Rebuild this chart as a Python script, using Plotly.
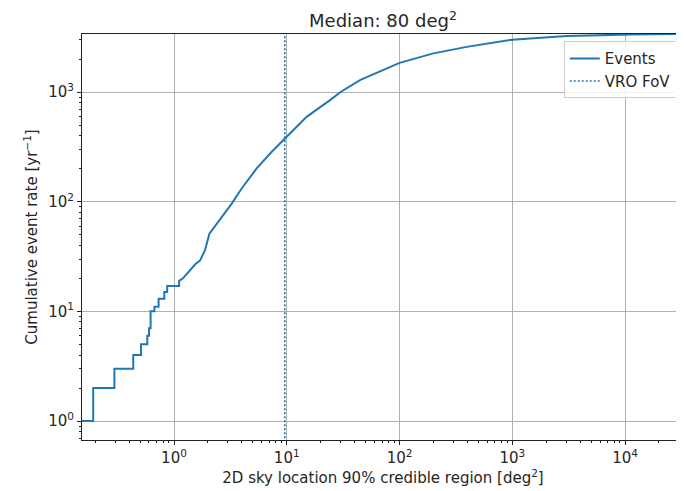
import plotly.graph_objects as go

# Vertices of the cumulative curve (deg^2, events/yr)
areas = [0.15, 0.192, 0.192, 0.296, 0.296, 0.435, 0.435, 0.51, 0.51, 0.58, 0.58,
         0.60, 0.60, 0.62, 0.62, 0.67, 0.67, 0.73, 0.73, 0.82, 0.82, 0.87, 0.87,
         1.11, 1.11, 1.2, 1.3, 1.45, 1.55, 1.70, 1.88, 2.06, 2.65, 3.25, 3.98,
         5.41, 7.36, 10.0, 15.0, 24.2, 30.0, 44.6, 67.0, 100.0, 200.0, 394.0,
         1000.0, 3030.0, 11600.0, 33000.0]
cumulative_rate = [1, 1, 2, 2, 3, 3, 4, 4, 5, 5, 6,
                   6, 7, 7, 10, 10, 11, 11, 13, 13, 15, 15, 17,
                   17, 19, 20, 22, 25, 27, 29, 36, 51, 73, 96, 132,
                   201, 285, 391, 594, 844, 1000, 1283, 1528, 1846, 2250, 2580,
                   3000, 3250, 3350, 3380]

vro_fov = 9.6
x_tick_vals = [1, 10, 100, 1000, 10000]
x_tick_text = ["10<sup>0</sup>", "10<sup>1</sup>", "10<sup>2</sup>", "10<sup>3</sup>", "10<sup>4</sup>"]
y_tick_vals = [1, 10, 100, 1000]
y_tick_text = ["10<sup>0</sup>", "10<sup>1</sup>", "10<sup>2</sup>", "10<sup>3</sup>"]

BLUE = "#1f77b4"
TXT = "#262626"
FONT = "DejaVu Sans"

x_minor = [m * 10.0 ** e for e in range(-1, 5) for m in range(2, 10)]
y_minor = [m * 10.0 ** e for e in range(-1, 4) for m in range(2, 10)]

# page body adds an 8px margin, so the figure is sized to fit the 684x491 window
W, H = 676, 483

fig = go.Figure()
fig.add_trace(go.Scatter(x=areas, y=cumulative_rate, mode="lines", name="Events",
                         line=dict(color=BLUE, width=2)))
fig.add_trace(go.Scatter(x=[vro_fov, vro_fov], y=[0.3, 10000], mode="lines", name="VRO FoV",
                         line=dict(color=BLUE, width=1.6, dash="2px,2px")))

axis_common = dict(
    type="log", showline=True, mirror=True, linecolor="#222", linewidth=1.1,
    ticks="outside", ticklen=4, tickcolor="#222", tickwidth=1,
    showgrid=True, gridcolor="#b0b0b0", gridwidth=1, zeroline=False,
    automargin=False,
    tickfont=dict(family=FONT, size=15, color=TXT),
)

fig.update_layout(
    width=W, height=H,
    margin=dict(l=74, r=0, t=26, b=51, autoexpand=False),
    paper_bgcolor="white", plot_bgcolor="white",
    font=dict(family=FONT, size=15, color=TXT),
    title=dict(text="Median: 80 deg<sup>2</sup>", x=0.5, xref="paper", xanchor="center",
               y=1 - 13 / H, yref="container", yanchor="middle",
               font=dict(family=FONT, size=18, color=TXT)),
    showlegend=True,
    legend=dict(x=0.988, y=0.982, xanchor="right", yanchor="top",
                bgcolor="rgba(255,255,255,0.85)", bordercolor="#cccccc", borderwidth=1,
                font=dict(family=FONT, size=15, color=TXT), tracegroupgap=2),
)
fig.update_xaxes(**axis_common,
                 range=[-0.816, 4.523],
                 tickmode="array", tickvals=x_tick_vals, ticktext=x_tick_text,
                 minor=dict(tickmode="array", tickvals=x_minor, ticks="outside", ticklen=2,
                            tickcolor="#222", showgrid=False),
                 title=dict(text="2D sky location 90% credible region [deg<sup>2</sup>]",
                            standoff=3, font=dict(family=FONT, size=15, color=TXT)))
fig.update_yaxes(**axis_common,
                 range=[-0.173, 3.529],
                 tickmode="array", tickvals=y_tick_vals, ticktext=y_tick_text,
                 minor=dict(tickmode="array", tickvals=y_minor, ticks="outside", ticklen=2,
                            tickcolor="#222", showgrid=False),
                 title=dict(text="Cumulative event rate [yr<sup>−1</sup>]",
                            standoff=6, font=dict(family=FONT, size=15, color=TXT)))

fig.write_html("out.html")
